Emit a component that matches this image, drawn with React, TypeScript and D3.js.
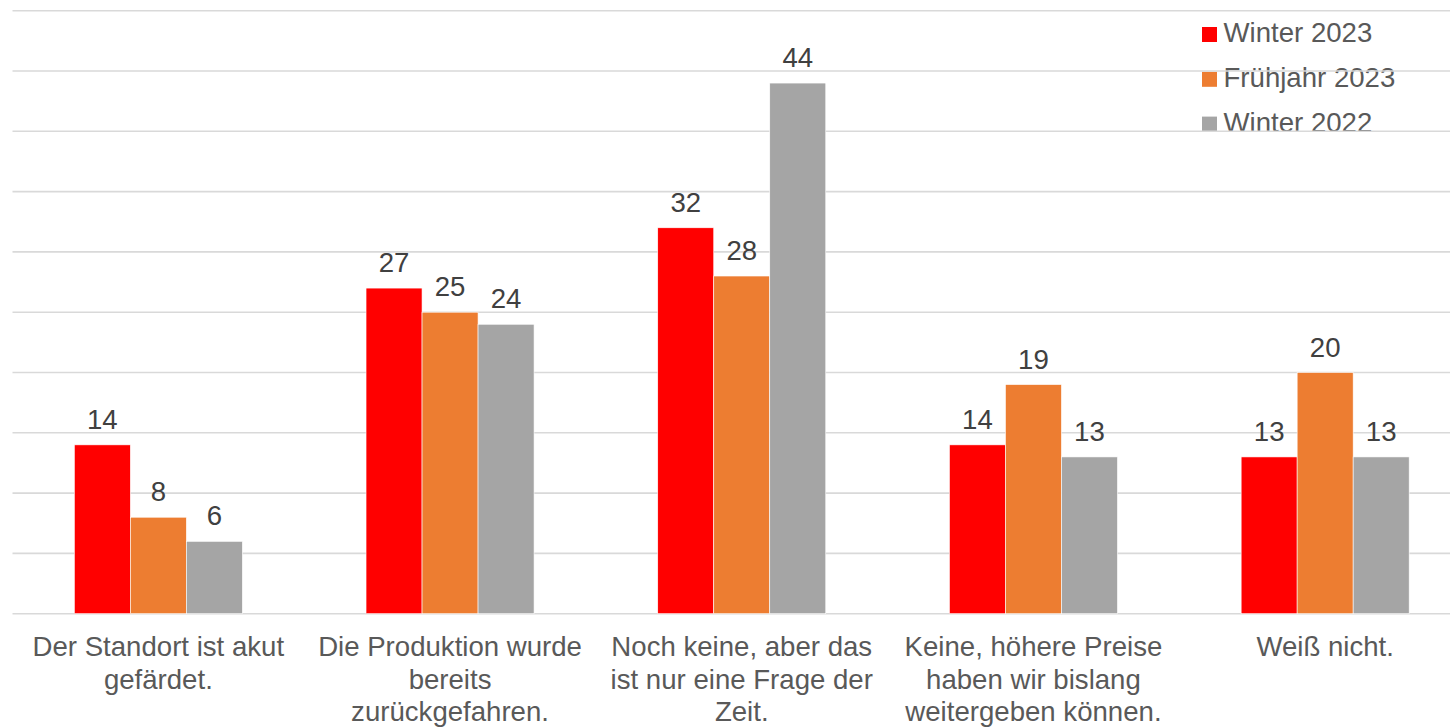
import React from "react";
import * as d3 from "d3";

const categories: string[][] = [
  ["Der Standort ist akut", "gefärdet."],
  ["Die Produktion wurde", "bereits", "zurückgefahren."],
  ["Noch keine, aber das", "ist nur eine Frage der", "Zeit."],
  ["Keine, höhere Preise", "haben wir bislang", "weitergeben können."],
  ["Weiß nicht."],
];
const seriesNames = ["Winter 2023", "Frühjahr 2023", "Winter 2022"];
const seriesColors = ["#FF0000", "#ED7D31", "#A5A5A5"];
const winter2023 = [14, 27, 32, 14, 13];
const fruehjahr2023 = [8, 25, 28, 19, 20];
const winter2022 = [6, 24, 44, 13, 13];
const seriesValues = [winter2023, fruehjahr2023, winter2022];
const yTicks = [0, 5, 10, 15, 20, 25, 30, 35, 40, 45, 50];

const W = 1450;
const H = 727;
const FONT = "'Liberation Sans', Arial, sans-serif";
const FS = 27.6;

export default function App() {
  const x = d3
    .scaleBand<number>()
    .domain(d3.range(categories.length))
    .range([12.5, 1471])
    .padding(0);
  const xi = d3
    .scaleBand<number>()
    .domain(d3.range(seriesNames.length))
    .range([0, x.bandwidth()])
    .paddingInner(0)
    .paddingOuter(1.104);
  const y = d3.scaleLinear().domain([0, 50]).range([613.7, 10.7]);

  return (
    <svg
      width={W}
      height={H}
      style={{ position: "absolute", left: 0, top: 0, background: "#fff" }}
      fontFamily={FONT}
    >
      {/* legend */}
      {seriesNames.map((s, i) => (
        <g key={s} transform={`translate(1202, ${27 + i * 44.8})`}>
          <rect width={15} height={15} fill={seriesColors[i]} />
          <text x={21.5} y={15.3} fontSize={FS} fill="#595959">
            {s}
          </text>
        </g>
      ))}
      {/* gridlines */}
      {yTicks.map((t) => (
        <line
          key={t}
          x1={12.5}
          x2={1471}
          y1={y(t)}
          y2={y(t)}
          stroke="#D9D9D9"
          strokeWidth={1.6}
        />
      ))}
      {/* bars */}
      {seriesValues.map((vals, si) =>
        vals.map((v, ci) => (
          <rect
            key={`${si}-${ci}`}
            x={(x(ci) as number) + (xi(si) as number)}
            y={y(v)}
            width={xi.bandwidth()}
            height={y(0) - y(v)}
            fill={seriesColors[si]}
            stroke="#ffffff"
            strokeWidth={0.6}
          />
        ))
      )}
      {/* value labels */}
      {seriesValues.map((vals, si) =>
        vals.map((v, ci) => (
          <text
            key={`l-${si}-${ci}`}
            x={(x(ci) as number) + (xi(si) as number) + xi.bandwidth() / 2}
            y={y(v) - 16}
            textAnchor="middle"
            fontSize={FS}
            fill="#404040"
          >
            {v}
          </text>
        ))
      )}
      {/* category labels */}
      {categories.map((lines, ci) => (
        <text
          key={`c-${ci}`}
          x={(x(ci) as number) + x.bandwidth() / 2}
          y={656.3}
          textAnchor="middle"
          fontSize={FS}
          fill="#595959"
        >
          {lines.map((ln, li) => (
            <tspan
              key={li}
              x={(x(ci) as number) + x.bandwidth() / 2}
              dy={li === 0 ? 0 : 32.2}
            >
              {ln}
            </tspan>
          ))}
        </text>
      ))}
    </svg>
  );
}
